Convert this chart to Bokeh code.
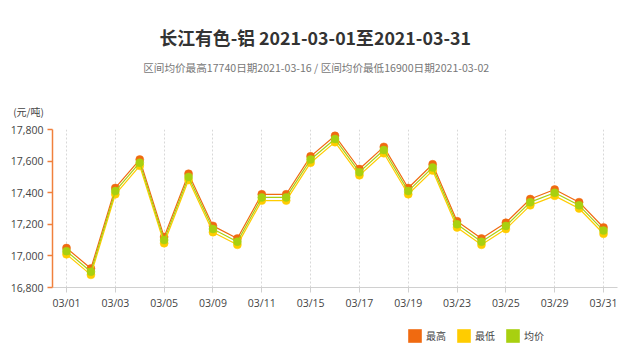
from bokeh.plotting import figure
from bokeh.layouts import column
from bokeh.models import (Range1d, FixedTicker, NumeralTickFormatter, Label,
                          Title, Legend, LegendItem, ColumnDataSource)
from bokeh.embed import file_html
from bokeh.resources import INLINE

# ---- data ----
dates = ["03/01", "03/02", "03/03", "03/04", "03/05", "03/08", "03/09", "03/10",
         "03/11", "03/12", "03/15", "03/16", "03/17", "03/18", "03/19", "03/22",
         "03/23", "03/24", "03/25", "03/26", "03/29", "03/30", "03/31"]
high = [17050, 16920, 17430, 17610, 17120, 17520, 17190, 17110, 17390, 17390,
        17630, 17760, 17550, 17690, 17430, 17580, 17220, 17110, 17210, 17360,
        17420, 17340, 17180]
low = [17010, 16880, 17390, 17570, 17080, 17480, 17150, 17070, 17350, 17350,
       17590, 17720, 17510, 17650, 17390, 17540, 17180, 17070, 17170, 17320,
       17380, 17300, 17140]
avg = [17030, 16900, 17410, 17590, 17100, 17500, 17170, 17090, 17370, 17370,
       17610, 17740, 17530, 17670, 17410, 17560, 17200, 17090, 17190, 17340,
       17400, 17320, 17160]
series_names = ["最高", "最低", "均价"]
y_ticks = [16800, 17000, 17200, 17400, 17600, 17800]
title_text = "长江有色-铝 2021-03-01至2021-03-31"
subtitle_text = "区间均价最高17740日期2021-03-16 / 区间均价最低16900日期2021-03-02"
unit_text = "(元/吨)"

idx = list(range(len(dates)))
label_idx = idx[::2]

FONT = "Open Sans"
CJK = "Noto Sans CJK SC"
colors = ["#f06a10", "#ffcc00", "#a8d010"]

W = 640
FRAME_L, FRAME_R = 52, 617
TOP_H = 90
LEG_H = 30
MAIN_H = 350 - TOP_H - LEG_H

# ---- heading strip (frame aligned with the chart frame; x = page pixel) ----
t = figure(width=W, height=TOP_H, output_backend="svg", toolbar_location=None,
           x_range=Range1d(FRAME_L, FRAME_R), y_range=Range1d(TOP_H, 0),
           x_axis_location=None, y_axis_location=None, min_border=0)
t.outline_line_color = None
t.grid.visible = False
t.add_layout(Label(x=159, y=36.5, text=title_text, text_align="left",
                   text_baseline="middle", text_font=CJK,
                   text_font_size="17.8px", text_font_style="bold",
                   text_color="#333333"))
t.add_layout(Label(x=142.7, y=67, text=subtitle_text, text_align="left",
                   text_baseline="middle", text_font=CJK,
                   text_font_size="10.6px", text_color="#777777"))

# ---- main chart ----
p = figure(width=W, height=MAIN_H, output_backend="svg", toolbar_location=None,
           x_range=Range1d(-0.5735, len(dates) - 1 + 0.5735),
           y_range=Range1d(16800, 17800),
           min_border_left=FRAME_L, min_border_right=W - FRAME_R,
           min_border_top=39, min_border_bottom=33)
p.outline_line_color = None
p.background_fill_color = "white"
p.border_fill_color = "white"

p.add_layout(Title(text=unit_text, align="left", offset=-39.3, standoff=22,
                   text_font=CJK, text_font_size="10px",
                   text_font_style="normal", text_color="#444444"), "above")

p.xaxis.ticker = FixedTicker(ticks=label_idx)
p.xaxis.major_label_overrides = {i: dates[i] for i in label_idx}
p.xaxis.axis_line_color = "#d0d0d0"
p.xaxis.major_tick_line_color = "#d0d0d0"
p.xaxis.major_tick_out = 5
p.xaxis.major_tick_in = 0
p.xaxis.minor_tick_line_color = None
p.xaxis.major_label_text_font = FONT
p.xaxis.major_label_text_font_size = "10.5px"
p.xaxis.major_label_text_color = "#444444"
p.xaxis.major_label_standoff = 3

p.yaxis.ticker = FixedTicker(ticks=y_ticks)
p.yaxis.formatter = NumeralTickFormatter(format="0,0")
p.yaxis.axis_line_color = "#f0803c"
p.yaxis.axis_line_width = 1.5
p.yaxis.major_tick_line_color = "#f0803c"
p.yaxis.major_tick_line_width = 1.5
p.yaxis.major_tick_out = 5
p.yaxis.major_tick_in = 0
p.yaxis.minor_tick_line_color = None
p.yaxis.major_label_text_font = FONT
p.yaxis.major_label_text_font_size = "10.5px"
p.yaxis.major_label_text_color = "#444444"
p.yaxis.major_label_standoff = 4

p.xgrid.grid_line_color = "#d8d8d8"
p.xgrid.grid_line_dash = "2 2"
p.ygrid.grid_line_color = None

for vals, col in zip([high, low, avg], colors):
    src = ColumnDataSource(dict(x=idx, y=vals))
    p.line("x", "y", source=src, line_color=col, line_width=1.2)
    p.scatter("x", "y", source=src, size=8, fill_color=col, line_color=col,
              line_width=0.5)

# ---- legend strip ----
q = figure(width=W, height=LEG_H, output_backend="svg", toolbar_location=None,
           x_range=Range1d(0, 1), y_range=Range1d(0, 1),
           x_axis_location=None, y_axis_location=None, min_border=0)
q.outline_line_color = None
q.grid.visible = False
nan = float("nan")
renderers = []
for col in colors:
    r = q.quad(left=[nan], right=[nan], top=[nan], bottom=[nan],
               fill_color=col, line_color=None)
    renderers.append(r)
legend = Legend(items=[LegendItem(label=n, renderers=[r])
                       for n, r in zip(series_names, renderers)],
                orientation="horizontal", location=(354, 6.5),
                glyph_width=17, glyph_height=17, label_height=17,
                label_width=20, label_standoff=3, spacing=9,
                padding=0, margin=0, border_line_color=None,
                background_fill_alpha=0,
                label_text_font=CJK, label_text_font_size="10px",
                label_text_color="#444444", label_text_baseline="middle")
q.add_layout(legend, "center")

layout = column(t, p, q, spacing=0)
open("out.html", "w").write(file_html(layout, INLINE))
